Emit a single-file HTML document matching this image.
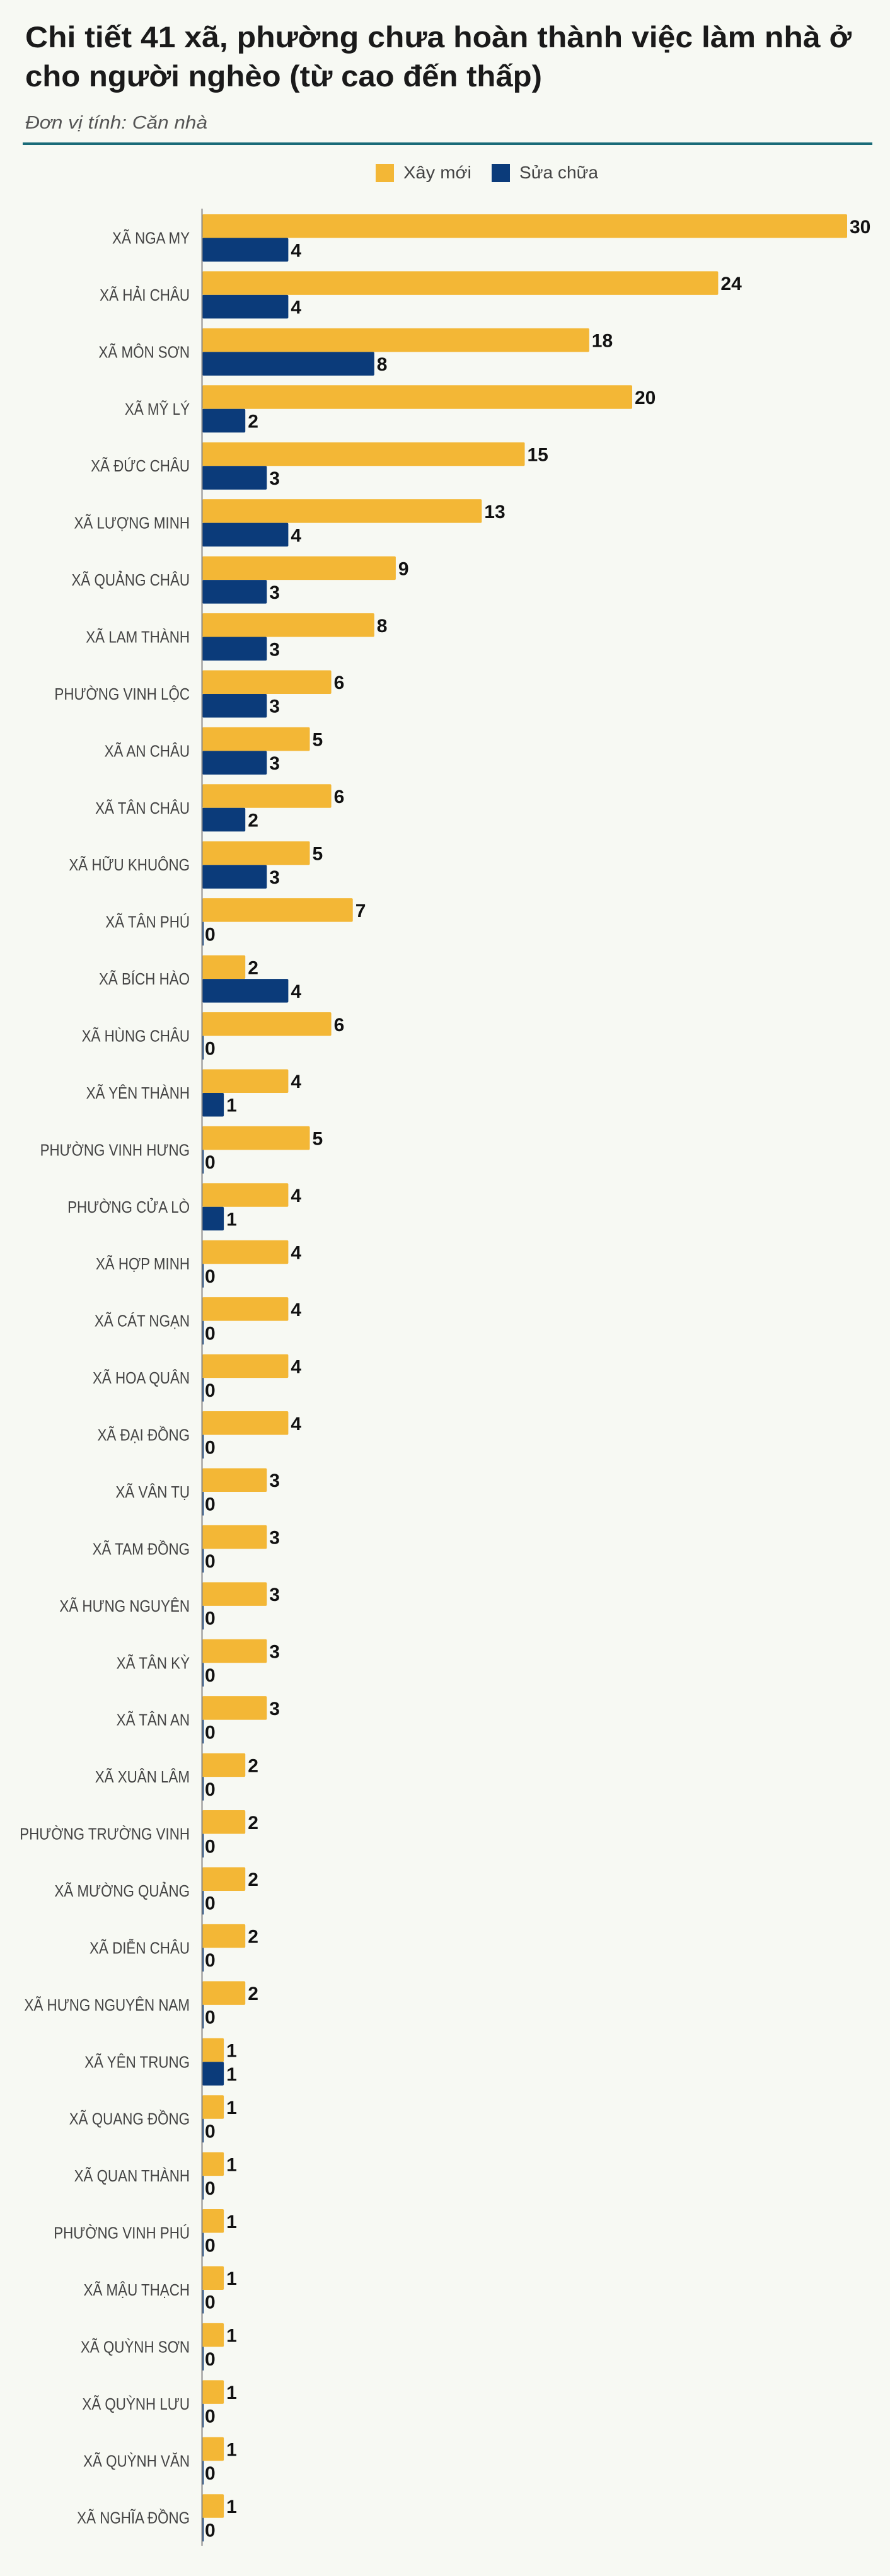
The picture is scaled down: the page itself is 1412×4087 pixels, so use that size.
<!DOCTYPE html>
<html><head><meta charset="utf-8"><style>
html,body{margin:0;padding:0;background:#F7F9F3;}
svg{display:block;font-family:"Liberation Sans",sans-serif;}
</style></head><body>
<svg id="chart" width="1412" height="4087" viewBox="0 0 1412 4087" xmlns="http://www.w3.org/2000/svg">
<rect width="1412" height="4087" fill="#F7F9F3"/>
<text x="40" y="75" font-size="47" font-weight="bold" fill="#1a1a1a" textLength="1311" lengthAdjust="spacingAndGlyphs">Chi tiết 41 xã, phường chưa hoàn thành việc làm nhà ở</text>
<text x="40" y="137" font-size="47" font-weight="bold" fill="#1a1a1a" textLength="820" lengthAdjust="spacingAndGlyphs">cho người nghèo (từ cao đến thấp)</text>
<text x="40" y="204" font-size="29" font-style="italic" fill="#555" textLength="289" lengthAdjust="spacingAndGlyphs">Đơn vị tính: Căn nhà</text>
<rect x="36" y="226" width="1348" height="4" fill="#1a6b78"/>
<g>
<rect x="596" y="260" width="29" height="29" fill="#F3B736"/>
<text x="640" y="283" font-size="28" fill="#444" textLength="108" lengthAdjust="spacingAndGlyphs">Xây mới</text>
<rect x="780" y="260" width="29" height="29" fill="#0B3B7A"/>
<text x="824" y="283" font-size="28" fill="#444" textLength="125" lengthAdjust="spacingAndGlyphs">Sửa chữa</text>
</g>
<g id="bars"></g>
<line x1="320.5" y1="331" x2="320.5" y2="4039" stroke="#888" stroke-width="2"/>
</svg>
<script>
const categories = ["XÃ NGA MY","XÃ HẢI CHÂU","XÃ MÔN SƠN","XÃ MỸ LÝ","XÃ ĐỨC CHÂU","XÃ LƯỢNG MINH","XÃ QUẢNG CHÂU","XÃ LAM THÀNH","PHƯỜNG VINH LỘC","XÃ AN CHÂU","XÃ TÂN CHÂU","XÃ HỮU KHUÔNG","XÃ TÂN PHÚ","XÃ BÍCH HÀO","XÃ HÙNG CHÂU","XÃ YÊN THÀNH","PHƯỜNG VINH HƯNG","PHƯỜNG CỬA LÒ","XÃ HỢP MINH","XÃ CÁT NGẠN","XÃ HOA QUÂN","XÃ ĐẠI ĐỒNG","XÃ VÂN TỤ","XÃ TAM ĐỒNG","XÃ HƯNG NGUYÊN","XÃ TÂN KỲ","XÃ TÂN AN","XÃ XUÂN LÂM","PHƯỜNG TRƯỜNG VINH","XÃ MƯỜNG QUẢNG","XÃ DIỄN CHÂU","XÃ HƯNG NGUYÊN NAM","XÃ YÊN TRUNG","XÃ QUANG ĐỒNG","XÃ QUAN THÀNH","PHƯỜNG VINH PHÚ","XÃ MẬU THẠCH","XÃ QUỲNH SƠN","XÃ QUỲNH LƯU","XÃ QUỲNH VĂN","XÃ NGHĨA ĐỒNG"];
const xayMoi = [30,24,18,20,15,13,9,8,6,5,6,5,7,2,6,4,5,4,4,4,4,4,3,3,3,3,3,2,2,2,2,2,1,1,1,1,1,1,1,1,1];
const suaChua = [4,4,8,2,3,4,3,3,3,3,2,3,0,4,0,1,0,1,0,0,0,0,0,0,0,0,0,0,0,0,0,0,1,0,0,0,0,0,0,0,0];

const NS = "http://www.w3.org/2000/svg";
const x0 = 321, unit = 34.1, top0 = 340, pitch = 90.43, barH = 37.5;
function xScale(v){ return unit * v; }
function yScale(i){ return top0 + i * pitch; }
const g = document.getElementById("bars");
function mk(tag, attrs){ const e = document.createElementNS(NS, tag); for (const k in attrs) e.setAttribute(k, attrs[k]); return e; }

categories.forEach((c, i) => {
  const y = yScale(i);
  const lab = mk("text", {x: 0, y: 0, "font-size": 26, fill: "#444", "text-anchor": "end", transform: "translate(301," + (y + barH + 9) + ") scale(0.86,1)"});
  
  
  lab.textContent = c;
  g.appendChild(lab);

  const w1 = xScale(xayMoi[i]);
  const b1 = mk("rect", {x: x0, y: y, width: w1, height: barH, rx: 2, fill: "#F3B736"});
  
  
  g.appendChild(b1);
  const t1 = mk("text", {x: x0 + w1 + 4, y: y + barH / 2 + 11, "font-size": 30, "font-weight": "bold", fill: "#111"});
  
  
  t1.textContent = xayMoi[i];
  g.appendChild(t1);

  const w2 = xScale(suaChua[i]);
  const y2 = y + barH;
  const b2 = mk("rect", {x: x0, y: y2, width: Math.max(w2, 2), height: barH, rx: w2 > 0 ? 2 : 0, fill: "#0B3B7A"});
  
  
  g.appendChild(b2);
  const t2 = mk("text", {x: x0 + w2 + 4, y: y2 + barH / 2 + 11, "font-size": 30, "font-weight": "bold", fill: "#111"});
  
  
  t2.textContent = suaChua[i];
  g.appendChild(t2);
});
</script>
</body></html>
